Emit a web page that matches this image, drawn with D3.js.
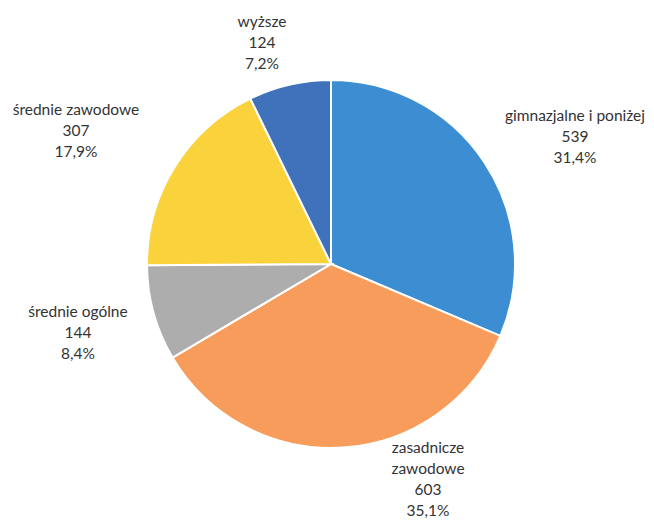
<!DOCTYPE html>
<html>
<head>
<meta charset="utf-8">
<script src="https://cdn.jsdelivr.net/npm/d3@7"></script>
<style>
  body { margin: 0; background: #fff; }
  text { font-family: Lato, "Open Sans", sans-serif; font-size: 15.5px; fill: #333; }
</style>
</head>
<body>
<div id="chart"></div>
<script>
const categories = ["gimnazjalne i poniżej", "zasadnicze zawodowe", "średnie ogólne", "średnie zawodowe", "wyższe"];
const values = [539, 603, 144, 307, 124];
const percents = ["31,4%", "35,1%", "8,4%", "17,9%", "7,2%"];
const colors = ["#3c8dd2", "#f89c5c", "#adadad", "#fad23c", "#3f72ba"];

// label lines (name split where the original wraps)
const nameLines = [["gimnazjalne i poniżej"], ["zasadnicze", "zawodowe"], ["średnie ogólne"], ["średnie zawodowe"], ["wyższe"]];
const labelPos = [[575, 116], [428, 448], [78, 312], [76, 110], [262, 22]];

const width = 654, height = 521;
const cx = 331, cy = 264, radius = 184;

const svg = d3.select("#chart")
  .append("svg")
  .attr("width", width)
  .attr("height", height);

const pie = d3.pie().sort(null).value(d => d);
const arc = d3.arc().innerRadius(0).outerRadius(radius);

const g = svg.append("g").attr("transform", `translate(${cx},${cy})`);

g.selectAll("path")
  .data(pie(values))
  .join("path")
  .attr("d", arc)
  .attr("fill", (d, i) => colors[i])
  .attr("stroke", "white")
  .attr("stroke-width", 2);

const lineH = 21;
categories.forEach((c, i) => {
  const lines = nameLines[i].concat([String(values[i]), percents[i]]);
  const t = svg.append("text")
    .attr("text-anchor", "middle")
    .attr("x", labelPos[i][0])
    .attr("y", labelPos[i][1] + 5);
  lines.forEach((l, j) => {
    t.append("tspan")
      .attr("x", labelPos[i][0])
      .attr("dy", j === 0 ? 0 : lineH)
      .text(l);
  });
});
</script>
</body>
</html>
